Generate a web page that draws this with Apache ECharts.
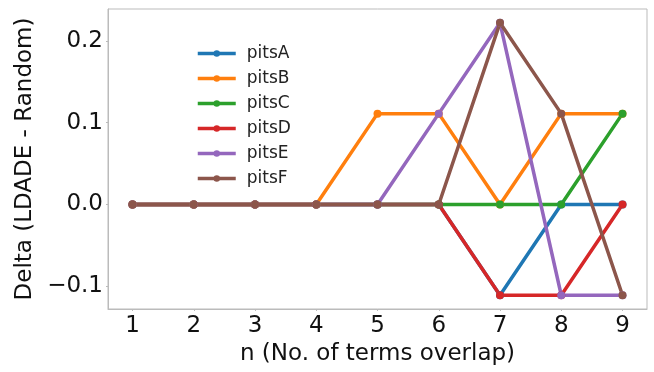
<!DOCTYPE html>
<html>
<head>
<meta charset="utf-8">
<script src="https://cdn.jsdelivr.net/npm/echarts@6/dist/echarts.min.js"></script>
<style>
  html, body { margin: 0; padding: 0; background: #fff; }
  #chart { width: 654px; height: 372px; }
</style>
</head>
<body>
<div id="chart"></div>
<script>
// n values (No. of terms overlap)
var nValues = [1, 2, 3, 4, 5, 6, 7, 8, 9];
var seriesNames = ["pitsA", "pitsB", "pitsC", "pitsD", "pitsE", "pitsF"];
var pitsA = [0, 0, 0, 0, 0, 0, -0.111, 0, 0];
var pitsB = [0, 0, 0, 0, 0.111, 0.111, 0, 0.111, 0.111];
var pitsC = [0, 0, 0, 0, 0, 0, 0, 0, 0.111];
var pitsD = [0, 0, 0, 0, 0, 0, -0.111, -0.111, 0];
var pitsE = [0, 0, 0, 0, 0, 0.111, 0.222, -0.111, -0.111];
var pitsF = [0, 0, 0, 0, 0, 0, 0.222, 0.111, -0.111];
var xTicks = [1, 2, 3, 4, 5, 6, 7, 8, 9];
var yTicks = [-0.1, 0, 0.1, 0.2];

var colors = ["#1f77b4", "#ff7f0e", "#2ca02c", "#d62728", "#9467bd", "#8c564b"];
var allData = [pitsA, pitsB, pitsC, pitsD, pitsE, pitsF];

var font = "DejaVu Sans";

var series = [];
for (var i = 0; i < seriesNames.length; i++) {
  series.push({
    name: seriesNames[i],
    type: "line",
    data: nValues.map(function (n, j) { return [n, allData[i][j]]; }),
    symbol: "circle",
    symbolSize: 8,
    lineStyle: { width: 3.5, color: colors[i] },
    itemStyle: { color: colors[i] },
    animation: false,
  });
}

var myChart = echarts.init(document.getElementById("chart"));
myChart.setOption({
  color: colors,
  grid: { left: 108, right: 7, top: 9, bottom: 63, show: true, borderColor: "#bbb", borderWidth: 1 },
  legend: {
    orient: "vertical",
    left: 196,
    top: 45,
    padding: 0,
    itemWidth: 38,
    itemHeight: 8,
    itemGap: 8,
    lineStyle: { width: 3.5 },
    textStyle: { fontFamily: font, fontSize: 17, color: "#222", padding: [0, 0, 0, 6] },
    data: seriesNames,
  },
  xAxis: {
    type: "value",
    min: 0.6,
    max: 9.4,
    name: "n (No. of terms overlap)",
    nameLocation: "middle",
    nameGap: 31,
    nameTextStyle: { fontFamily: font, fontSize: 23, color: "#111" },
    axisLine: { show: true, onZero: false, lineStyle: { color: "#bbb" } },
    axisTick: { show: true, length: 2, customValues: xTicks, lineStyle: { color: "#bbb" } },
    axisLabel: { customValues: xTicks, fontFamily: font, fontSize: 23, color: "#111", margin: 6 },
    splitLine: { show: false },
  },
  yAxis: {
    type: "value",
    min: -0.1278,
    max: 0.2389,
    name: "Delta (LDADE - Random)",
    nameLocation: "middle",
    nameGap: 69,
    nameTextStyle: { fontFamily: font, fontSize: 23, color: "#111" },
    axisLine: { show: true, onZero: false, lineStyle: { color: "#bbb" } },
    axisTick: { show: true, length: 2, customValues: yTicks, lineStyle: { color: "#bbb" } },
    axisLabel: {
      customValues: yTicks,
      fontFamily: font,
      fontSize: 23,
      color: "#111",
      margin: 5,
      formatter: function (v) { return v.toFixed(1).replace("-", "\u2212"); },
    },
    splitLine: { show: false },
  },
  series: series,
});
</script>
</body>
</html>
